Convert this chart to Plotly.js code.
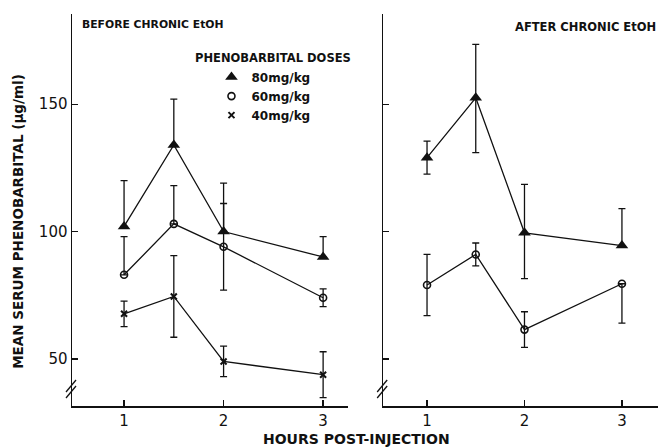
<!DOCTYPE html>
<html>
<head>
<meta charset="utf-8">
<script src="https://cdn.plot.ly/plotly-3.0.1.min.js"></script>
<style>html,body{margin:0;padding:0;background:#fff}#chart{width:660px;height:448px}</style>
</head>
<body>
<div id="chart"></div>
<script>
// Hours post-injection
const hours = [1, 1.5, 2, 3];
const xTicks = [1, 2, 3];
const yTicks = [50, 100, 150];

// BEFORE chronic EtOH
const before80 = [102, 134, 100, 90];
const before80Up = [18, 18, 19, 8];
const before80Down = [0, 0, 0, 0];
const before60 = [83, 103, 94, 74];
const before60Up = [15, 15, 17, 3.5];
const before60Down = [0, 0, 17, 3.5];
const before40 = [67.7, 74.5, 49, 43.8];
const before40Err = [5, 16, 6, 9];

// AFTER chronic EtOH
const after80 = [129, 152.5, 99.5, 94.5];
const after80Up = [6.5, 21, 19, 14.5];
const after80Down = [6.5, 21.5, 18, 0];
const after60 = [79, 91, 61.5, 79.5];
const after60Up = [12, 4.5, 7, 0];
const after60Down = [12, 4.5, 7, 15.5];

const doseLabels = ['80mg/kg', '60mg/kg', '40mg/kg'];

const lineStyle = {color: '#111', width: 1.3};
const errStyle = {thickness: 1.3, width: 3.5, color: '#111'};
const sym = {
  '80mg/kg': {symbol: 'triangle-up', size: 11, color: '#111'},
  '60mg/kg': {symbol: 'circle-open', size: 7, color: '#111', line: {width: 1.6, color: '#111'}},
  '40mg/kg': {symbol: 'x-thin-open', size: 6, color: '#111', line: {width: 2, color: '#111'}}
};

function tr(y, up, down, dose, xa, ya) {
  return {
    x: hours, y: y, xaxis: xa, yaxis: ya, type: 'scatter', mode: 'lines+markers',
    line: lineStyle, marker: sym[dose], showlegend: false, cliponaxis: false,
    error_y: Object.assign({type: 'data', symmetric: false, array: up, arrayminus: down}, errStyle)
  };
}

const data = [
  tr(before80, before80Up, before80Down, '80mg/kg', 'x', 'y'),
  tr(before60, before60Up, before60Down, '60mg/kg', 'x', 'y'),
  tr(before40, before40Err, before40Err, '40mg/kg', 'x', 'y'),
  tr(after80, after80Up, after80Down, '80mg/kg', 'x2', 'y2'),
  tr(after60, after60Up, after60Down, '60mg/kg', 'x2', 'y2')
];
doseLabels.forEach(d => data.push({
  x: [null], y: [null], type: 'scatter', mode: 'markers', marker: sym[d],
  name: d, showlegend: true, xaxis: 'x', yaxis: 'y'
}));

const font = {family: 'DejaVu Sans, sans-serif', color: '#111'};
const axisBase = {
  showgrid: false, zeroline: false, showline: true, linecolor: '#111', linewidth: 1.5,
  ticks: 'inside', ticklen: 6, tickwidth: 1.3, tickcolor: '#111'
};

function brk(xa, ya) {
  return [0, 6].map(o => ({
    type: 'line', xref: xa + ' domain', yref: ya, xsizemode: 'pixel', ysizemode: 'pixel',
    xanchor: 0, yanchor: 37, x0: -6, x1: 4, y0: -6 + o, y1: 6 + o,
    line: {color: '#111', width: 1.3}
  }));
}

const layout = {
  width: 660, height: 448,
  margin: {l: 72, r: 2, t: 14, b: 42},
  paper_bgcolor: '#fff', plot_bgcolor: '#fff',
  font: font,
  showlegend: true,
  legend: {x: 0.238, y: 0.876, xanchor: 'left', yanchor: 'top', bgcolor: 'rgba(0,0,0,0)',
           font: {family: 'DejaVu Sans, sans-serif', size: 12, color: '#111', weight: 'bold'},
           itemwidth: 30, tracegroupgap: 0},
  xaxis: Object.assign({}, axisBase, {domain: [0, 0.471], range: [0.477, 3.25], tickvals: xTicks,
          tickfont: {size: 15, family: 'DejaVu Sans, sans-serif'}, anchor: 'y'}),
  yaxis: Object.assign({}, axisBase, {range: [31.5, 185.4], tickvals: yTicks,
          tickfont: {size: 15, family: 'DejaVu Sans, sans-serif'}, anchor: 'x'}),
  xaxis2: Object.assign({}, axisBase, {domain: [0.531, 1], range: [0.55, 3.37], tickvals: xTicks,
          tickfont: {size: 15, family: 'DejaVu Sans, sans-serif'}, anchor: 'y2'}),
  yaxis2: Object.assign({}, axisBase, {range: [31.5, 185.4], tickvals: yTicks, showticklabels: false,
          anchor: 'x2', matches: 'y'}),
  shapes: brk('x', 'y').concat(brk('x2', 'y2')),
  annotations: [
    {text: 'BEFORE CHRONIC EtOH', xref: 'paper', yref: 'paper', x: 0.014, y: 0.972, xanchor: 'left', yanchor: 'middle',
     showarrow: false, font: {size: 10.8, weight: 'bold'}},
    {text: 'AFTER CHRONIC EtOH', xref: 'paper', yref: 'paper', x: 1, y: 0.967, xanchor: 'right', yanchor: 'middle',
     showarrow: false, font: {size: 11.5, weight: 'bold'}},
    {text: 'PHENOBARBITAL DOSES', xref: 'paper', yref: 'paper', x: 0.206, y: 0.888, xanchor: 'left', yanchor: 'middle',
     showarrow: false, font: {size: 11.5, weight: 'bold'}},
    {text: 'MEAN SERUM PHENOBARBITAL (μg/ml)', xref: 'paper', yref: 'paper', x: -0.092, y: 0.47, xanchor: 'center', yanchor: 'middle',
     textangle: -90, showarrow: false, font: {size: 13.5, weight: 'bold'}},
    {text: 'HOURS POST-INJECTION', xref: 'paper', yref: 'paper', x: 0.486, y: -0.085, xanchor: 'center', yanchor: 'middle',
     showarrow: false, font: {size: 14, weight: 'bold'}}
  ]
};

Plotly.newPlot('chart', data, layout, {displayModeBar: false, staticPlot: true});
</script>
</body>
</html>
